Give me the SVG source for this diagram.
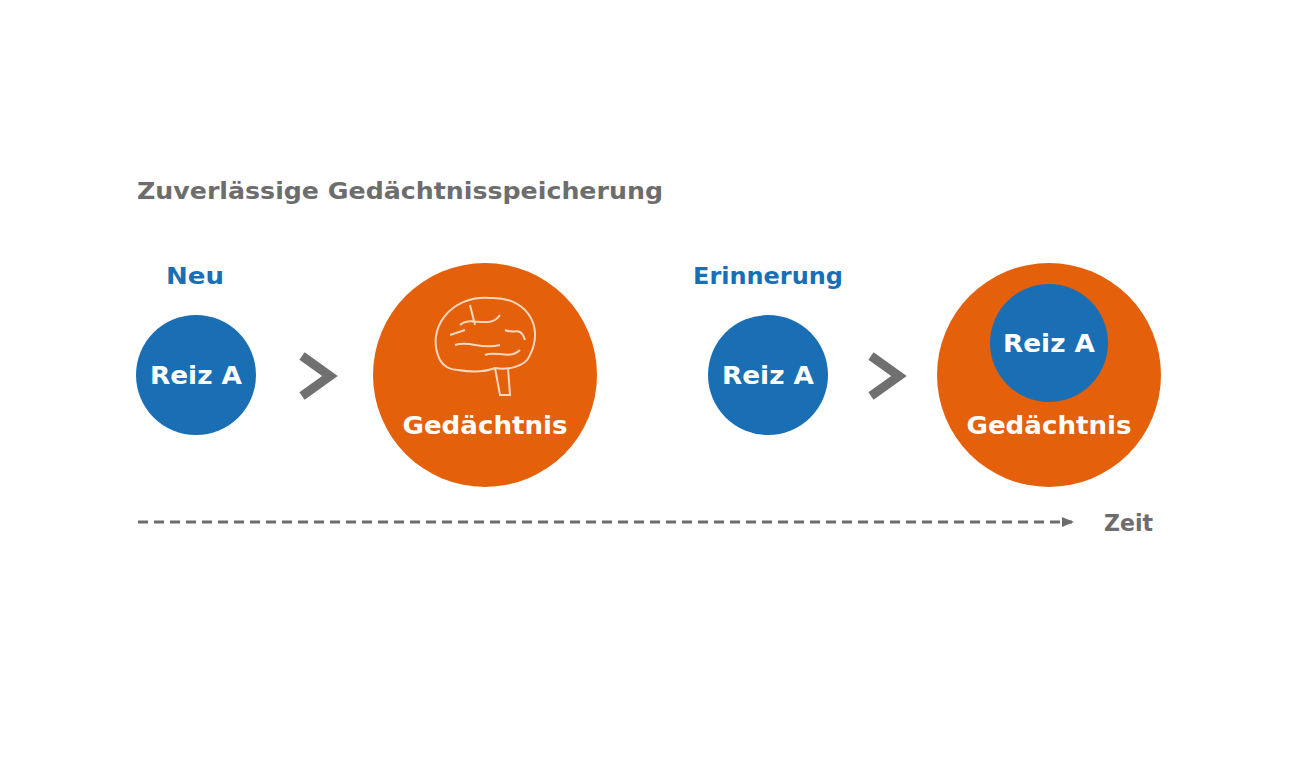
<svg xmlns="http://www.w3.org/2000/svg" width="1300" height="764" viewBox="0 0 1300 764">
<style>
.t{font-family:"DejaVu Sans","Liberation Sans",Arial,sans-serif;font-weight:bold}
.w{fill:#fff;font-size:25px;text-anchor:middle}
.b{fill:#1a6fb4}
.o{fill:#e4600a}
.h{fill:#1a6fb4;font-size:23px}
.g{font-size:23px;fill:#6d6d6d}
.chev{fill:none;stroke:#707070;stroke-width:9}
.brain{fill:none;stroke:#f6d8c0;stroke-width:2}
</style>
<defs><marker id="ah" markerWidth="12" markerHeight="10" refX="10" refY="5" orient="auto" markerUnits="userSpaceOnUse"><path d="M0,0 L12,5 L0,10 Z" fill="#6d6d6d"/></marker></defs>
<rect width="1300" height="764" fill="#fff"/>
<text x="137" y="199" class="t g" textLength="526" lengthAdjust="spacingAndGlyphs">Zuverlässige Gedächtnisspeicherung</text>
<text x="166" y="284" class="t h" textLength="58" lengthAdjust="spacingAndGlyphs">Neu</text>
<text x="693" y="284" class="t h" textLength="150" lengthAdjust="spacingAndGlyphs">Erinnerung</text>
<g id="reizA1"><circle cx="196" cy="375" r="60" class="b"/><text x="196" y="384" class="t w" textLength="92" lengthAdjust="spacingAndGlyphs">Reiz A</text></g>
<g id="gedaechtnis1"><circle cx="485" cy="375" r="112" class="o"/>
<g class="brain"><path d="M440,360 C425,330 450,295 490,298 C525,296 545,325 530,355 C525,368 505,370 495,368 C485,372 470,372 458,370 C450,370 443,366 440,360 Z"/>
<path d="M495,368 L500,395 L510,395 L508,368"/>
<path d="M455,345 C470,340 480,350 500,345 M460,325 C470,315 490,330 500,315 M505,330 C515,335 520,325 525,340 M470,305 L475,325 M450,335 L465,330 M485,355 C495,350 510,360 520,350"/></g>
<text x="485" y="434" class="t w" textLength="165" lengthAdjust="spacingAndGlyphs">Gedächtnis</text></g>
<g id="reizA2"><circle cx="768" cy="375" r="60" class="b"/><text x="768" y="384" class="t w" textLength="92" lengthAdjust="spacingAndGlyphs">Reiz A</text></g>
<g id="gedaechtnis2"><circle cx="1049" cy="375" r="112" class="o"/><circle cx="1049" cy="343" r="59" class="b"/>
<text x="1049" y="352" class="t w" textLength="92" lengthAdjust="spacingAndGlyphs">Reiz A</text>
<text x="1049" y="434" class="t w" textLength="165" lengthAdjust="spacingAndGlyphs">Gedächtnis</text></g>
<g id="connectors">
<path d="M302,356 L330,376 L302,396" class="chev"/>
<path d="M871,356 L899,376 L871,396" class="chev"/>
<line x1="138" y1="522" x2="1072" y2="522" stroke="#6d6d6d" stroke-width="3" stroke-dasharray="10,6" marker-end="url(#ah)"/>
</g>
<text x="1104" y="531" class="t g" textLength="49" lengthAdjust="spacingAndGlyphs">Zeit</text>
</svg>
